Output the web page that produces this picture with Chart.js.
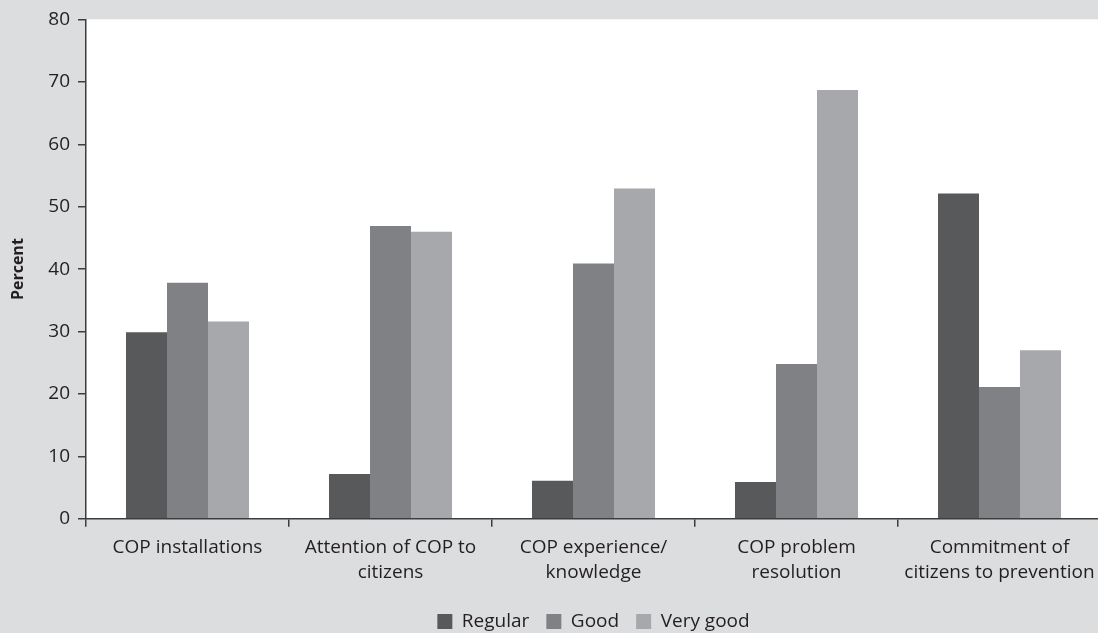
<!DOCTYPE html>
<html>
<head>
<meta charset="utf-8">
<script src="https://cdn.jsdelivr.net/npm/chart.js@4/dist/chart.umd.min.js"></script>
<style>
  html, body { margin: 0; padding: 0; overflow: hidden; background: #dcdddf; }
  #wrap { width: 1098px; height: 633px; overflow: hidden; }
  canvas { display: block; }
</style>
</head>
<body>
<div id="wrap"><canvas id="chart" width="1110" height="641"></canvas></div>
<script>
// Ratings of community police (COP) aspects, percent of respondents
const categories = [
  ["COP installations"],
  ["Attention of COP to", "citizens"],
  ["COP experience/", "knowledge"],
  ["COP problem", "resolution"],
  ["Commitment of", "citizens to prevention"]
];
const regular  = [29.9, 7.2, 6.1, 5.9, 52.1];
const good     = [37.8, 46.9, 40.9, 24.8, 21.1];
const veryGood = [31.6, 46.0, 52.9, 68.7, 27.0];
const yTicks   = [0, 10, 20, 30, 40, 50, 60, 70, 80];

const FONT = "'Open Sans', 'Noto Sans', sans-serif";
const TEXT = '#231f20';
const AXIS = '#3d3d3f';

// white plotting area on the grey page
const plotBackground = {
  id: 'plotBackground',
  beforeDraw(chart) {
    const { ctx, chartArea: a } = chart;
    ctx.save();
    ctx.fillStyle = '#ffffff';
    ctx.fillRect(a.left, a.top, a.right - a.left, a.bottom - a.top);
    ctx.restore();
  }
};

// centre the legend under the plotting area rather than the whole canvas
const legendUnderPlot = {
  id: 'legendUnderPlot',
  afterLayout(chart) {
    const lg = chart.legend, a = chart.chartArea;
    if (!lg) return;
    lg.left = a.left;
    lg.right = a.right;
    lg.width = a.right - a.left;
  }
};

new Chart(document.getElementById('chart'), {
  type: 'bar',
  data: {
    labels: categories,
    datasets: [
      { label: 'Regular',   data: regular,  backgroundColor: '#58595b' },
      { label: 'Good',      data: good,     backgroundColor: '#808184' },
      { label: 'Very good', data: veryGood, backgroundColor: '#a7a8ab' }
    ]
  },
  options: {
    responsive: false,
    animation: false,
    events: [],
    barPercentage: 1.0,
    categoryPercentage: 0.606,
    layout: { padding: { top: 18, right: 9, left: 0, bottom: 0 } },
    plugins: {
      tooltip: { enabled: false },
      legend: {
        position: 'bottom',
        labels: {
          color: TEXT,
          font: { family: FONT, size: 19 },
          boxWidth: 15,
          boxHeight: 15,
          padding: 17,
          useBorderRadius: false
        }
      }
    },
    scales: {
      x: {
        offset: true,
        afterFit(scale) { scale.height += 2; },
        grid: {
          offset: true,
          drawOnChartArea: false,
          drawTicks: true,
          tickLength: 8,
          color: AXIS,
          lineWidth: 1.5
        },
        border: { display: true, color: AXIS, width: 1.5 },
        ticks: {
          color: TEXT,
          font: { family: FONT, size: 19, lineHeight: 1.32 },
          padding: 8,
          maxRotation: 0,
          autoSkip: false
        }
      },
      y: {
        min: 0,
        max: 80,
        afterBuildTicks(scale) {
          scale.ticks = yTicks.map(v => ({ value: v }));
        },
        afterFit(scale) { scale.width = 86; },
        grid: {
          drawOnChartArea: false,
          drawTicks: true,
          tickLength: 8,
          color: AXIS,
          lineWidth: 1.5
        },
        border: { display: true, color: AXIS, width: 1.5 },
        ticks: {
          color: TEXT,
          font: { family: FONT, size: 19 },
          padding: 8
        },
        title: {
          display: true,
          text: 'Percent',
          color: TEXT,
          font: { family: FONT, size: 16, weight: 'bold' },
          padding: { top: 9, bottom: 0 }
        }
      }
    }
  },
  plugins: [plotBackground, legendUnderPlot]
});
</script>
</body>
</html>
